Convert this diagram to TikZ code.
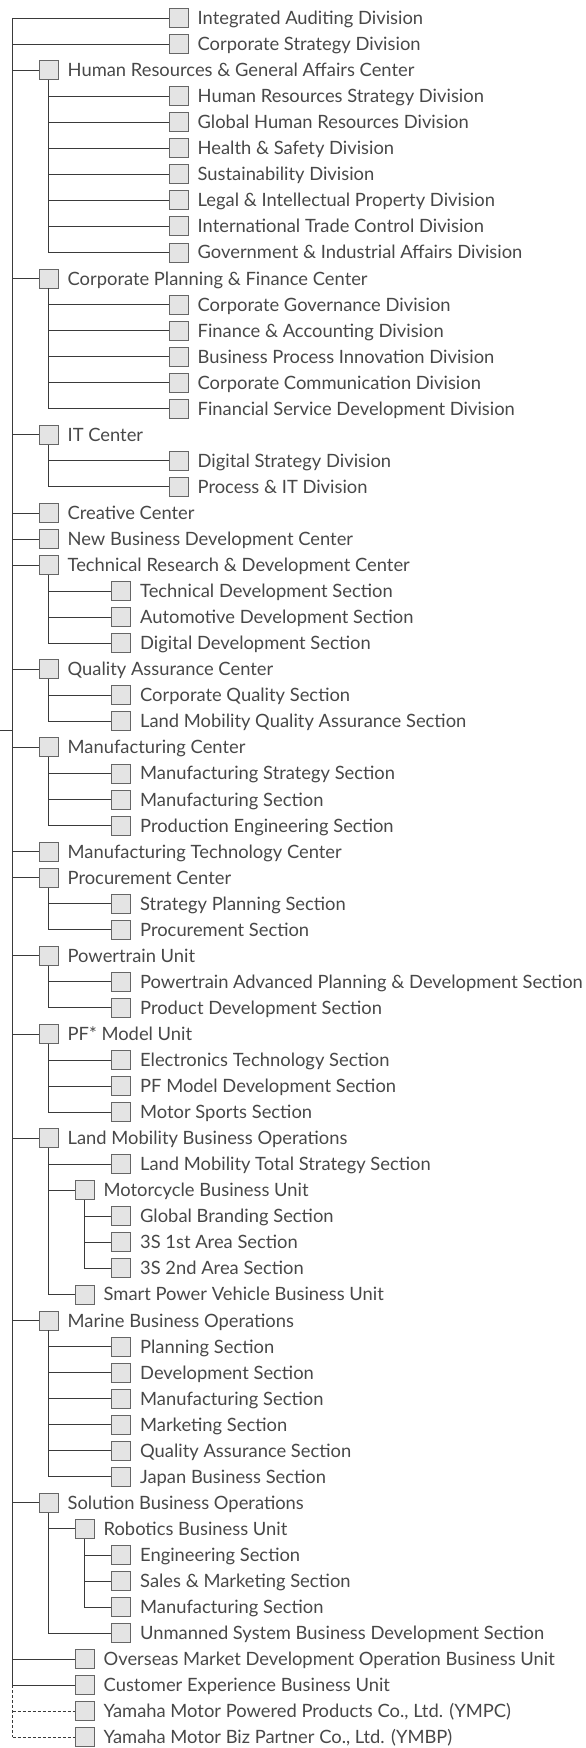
\documentclass[tikz,border=0pt]{standalone}
\usepackage{fontspec}
\setmainfont{Lato}
\usepackage{xcolor}
\usepackage{tikz}
\usetikzlibrary{positioning}

\definecolor{linegray}{HTML}{3A3A3A}
\definecolor{boxfill}{HTML}{E4E4E4}
\definecolor{boxline}{HTML}{666666}
\definecolor{textgray}{HTML}{484848}

\begin{document}
\begin{tikzpicture}[
            x=1pt, y=-26.05pt,
            unit/.style={rectangle, draw=boxline, fill=boxfill, line width=0.9pt, minimum size=19pt, inner sep=0pt},
            txt/.style={inner sep=0pt, text=textgray, font=\fontsize{18.35}{20}\selectfont, text height=13pt, text depth=0pt},
            link/.style={draw=linegray, line width=0.9pt},
            sister/.style={link, dash pattern=on 3pt off 2pt}
        ]
        \useasboundingbox (0,0.309) rectangle (585,67.41);

        \coordinate (trunk) at (12.5,1);
        \coordinate (parent) at (0,28.35);

        % Direct divisions
        \node[unit] (iad) at (178.5,1) {};
        \node[txt, right=9pt of iad] (iad-t) {Integrated Auditing Division};
        \node[unit] (csd) at (178.5,2) {};
        \node[txt, right=9pt of csd] (csd-t) {Corporate Strategy Division};

        % Human Resources & General Affairs Center
        \node[unit] (hrga) at (48.5,3) {};
        \node[txt, right=9pt of hrga] (hrga-t) {Human Resources \& General Affairs Center};
        \node[unit] (hrs) at (178.5,4) {};
        \node[txt, right=9pt of hrs] (hrs-t) {Human Resources Strategy Division};
        \node[unit] (ghr) at (178.5,5) {};
        \node[txt, right=9pt of ghr] (ghr-t) {Global Human Resources Division};
        \node[unit] (hsd) at (178.5,6) {};
        \node[txt, right=9pt of hsd] (hsd-t) {Health \& Safety Division};
        \node[unit] (sus) at (178.5,7) {};
        \node[txt, right=9pt of sus] (sus-t) {Sustainability Division};
        \node[unit] (lip) at (178.5,8) {};
        \node[txt, right=9pt of lip] (lip-t) {Legal \& Intellectual Property Division};
        \node[unit] (itc) at (178.5,9) {};
        \node[txt, right=9pt of itc] (itc-t) {International Trade Control Division};
        \node[unit] (gia) at (178.5,10) {};
        \node[txt, right=9pt of gia] (gia-t) {Government \& Industrial Affairs Division};

        % Corporate Planning & Finance Center
        \node[unit] (cpf) at (48.5,11) {};
        \node[txt, right=9pt of cpf] (cpf-t) {Corporate Planning \& Finance Center};
        \node[unit] (cgd) at (178.5,12) {};
        \node[txt, right=9pt of cgd] (cgd-t) {Corporate Governance Division};
        \node[unit] (fad) at (178.5,13) {};
        \node[txt, right=9pt of fad] (fad-t) {Finance \& Accounting Division};
        \node[unit] (bpi) at (178.5,14) {};
        \node[txt, right=9pt of bpi] (bpi-t) {Business Process Innovation Division};
        \node[unit] (ccd) at (178.5,15) {};
        \node[txt, right=9pt of ccd] (ccd-t) {Corporate Communication Division};
        \node[unit] (fsd) at (178.5,16) {};
        \node[txt, right=9pt of fsd] (fsd-t) {Financial Service Development Division};

        % IT Center
        \node[unit] (itcen) at (48.5,17) {};
        \node[txt, right=9pt of itcen] (itcen-t) {IT Center};
        \node[unit] (dsd) at (178.5,18) {};
        \node[txt, right=9pt of dsd] (dsd-t) {Digital Strategy Division};
        \node[unit] (pit) at (178.5,19) {};
        \node[txt, right=9pt of pit] (pit-t) {Process \& IT Division};

        \node[unit] (cre) at (48.5,20) {};
        \node[txt, right=9pt of cre] (cre-t) {Creative Center};
        \node[unit] (nbd) at (48.5,21) {};
        \node[txt, right=9pt of nbd] (nbd-t) {New Business Development Center};

        % Technical Research & Development Center
        \node[unit] (trd) at (48.5,22) {};
        \node[txt, right=9pt of trd] (trd-t) {Technical Research \& Development Center};
        \node[unit] (tds) at (121,23) {};
        \node[txt, right=9pt of tds] (tds-t) {Technical Development Section};
        \node[unit] (ads) at (121,24) {};
        \node[txt, right=9pt of ads] (ads-t) {Automotive Development Section};
        \node[unit] (dds) at (121,25) {};
        \node[txt, right=9pt of dds] (dds-t) {Digital Development Section};

        % Quality Assurance Center
        \node[unit] (qac) at (48.5,26) {};
        \node[txt, right=9pt of qac] (qac-t) {Quality Assurance Center};
        \node[unit] (cqs) at (121,27) {};
        \node[txt, right=9pt of cqs] (cqs-t) {Corporate Quality Section};
        \node[unit] (lmq) at (121,28) {};
        \node[txt, right=9pt of lmq] (lmq-t) {Land Mobility Quality Assurance Section};

        % Manufacturing Center
        \node[unit] (mfc) at (48.5,29) {};
        \node[txt, right=9pt of mfc] (mfc-t) {Manufacturing Center};
        \node[unit] (mst) at (121,30) {};
        \node[txt, right=9pt of mst] (mst-t) {Manufacturing Strategy Section};
        \node[unit] (mfs) at (121,31) {};
        \node[txt, right=9pt of mfs] (mfs-t) {Manufacturing Section};
        \node[unit] (pes) at (121,32) {};
        \node[txt, right=9pt of pes] (pes-t) {Production Engineering Section};

        \node[unit] (mtc) at (48.5,33) {};
        \node[txt, right=9pt of mtc] (mtc-t) {Manufacturing Technology Center};

        % Procurement Center
        \node[unit] (prc) at (48.5,34) {};
        \node[txt, right=9pt of prc] (prc-t) {Procurement Center};
        \node[unit] (sps) at (121,35) {};
        \node[txt, right=9pt of sps] (sps-t) {Strategy Planning Section};
        \node[unit] (prs) at (121,36) {};
        \node[txt, right=9pt of prs] (prs-t) {Procurement Section};

        % Powertrain Unit
        \node[unit] (ptu) at (48.5,37) {};
        \node[txt, right=9pt of ptu] (ptu-t) {Powertrain Unit};
        \node[unit] (pap) at (121,38) {};
        \node[txt, right=9pt of pap] (pap-t) {Powertrain Advanced Planning \& Development Section};
        \node[unit] (pds) at (121,39) {};
        \node[txt, right=9pt of pds] (pds-t) {Product Development Section};

        % PF* Model Unit
        \node[unit] (pfm) at (48.5,40) {};
        \node[txt, right=9pt of pfm] (pfm-t) {PF* Model Unit};
        \node[unit] (ets) at (121,41) {};
        \node[txt, right=9pt of ets] (ets-t) {Electronics Technology Section};
        \node[unit] (pmd) at (121,42) {};
        \node[txt, right=9pt of pmd] (pmd-t) {PF Model Development Section};
        \node[unit] (msp) at (121,43) {};
        \node[txt, right=9pt of msp] (msp-t) {Motor Sports Section};

        % Land Mobility Business Operations
        \node[unit] (lmbo) at (48.5,44) {};
        \node[txt, right=9pt of lmbo] (lmbo-t) {Land Mobility Business Operations};
        \node[unit] (lmts) at (121,45) {};
        \node[txt, right=9pt of lmts] (lmts-t) {Land Mobility Total Strategy Section};
        \node[unit] (mcbu) at (84.5,46) {};
        \node[txt, right=9pt of mcbu] (mcbu-t) {Motorcycle Business Unit};
        \node[unit] (gbs) at (121,47) {};
        \node[txt, right=9pt of gbs] (gbs-t) {Global Branding Section};
        \node[unit] (sfa) at (121,48) {};
        \node[txt, right=9pt of sfa] (sfa-t) {3S 1st Area Section};
        \node[unit] (ssa) at (121,49) {};
        \node[txt, right=9pt of ssa] (ssa-t) {3S 2nd Area Section};
        \node[unit] (spv) at (84.5,50) {};
        \node[txt, right=9pt of spv] (spv-t) {Smart Power Vehicle Business Unit};

        % Marine Business Operations
        \node[unit] (mbo) at (48.5,51) {};
        \node[txt, right=9pt of mbo] (mbo-t) {Marine Business Operations};
        \node[unit] (mpl) at (121,52) {};
        \node[txt, right=9pt of mpl] (mpl-t) {Planning Section};
        \node[unit] (mdv) at (121,53) {};
        \node[txt, right=9pt of mdv] (mdv-t) {Development Section};
        \node[unit] (mmf) at (121,54) {};
        \node[txt, right=9pt of mmf] (mmf-t) {Manufacturing Section};
        \node[unit] (mmk) at (121,55) {};
        \node[txt, right=9pt of mmk] (mmk-t) {Marketing Section};
        \node[unit] (mqa) at (121,56) {};
        \node[txt, right=9pt of mqa] (mqa-t) {Quality Assurance Section};
        \node[unit] (mjb) at (121,57) {};
        \node[txt, right=9pt of mjb] (mjb-t) {Japan Business Section};

        % Solution Business Operations
        \node[unit] (sbo) at (48.5,58) {};
        \node[txt, right=9pt of sbo] (sbo-t) {Solution Business Operations};
        \node[unit] (rbu) at (84.5,59) {};
        \node[txt, right=9pt of rbu] (rbu-t) {Robotics Business Unit};
        \node[unit] (ren) at (121,60) {};
        \node[txt, right=9pt of ren] (ren-t) {Engineering Section};
        \node[unit] (rsm) at (121,61) {};
        \node[txt, right=9pt of rsm] (rsm-t) {Sales \& Marketing Section};
        \node[unit] (rmf) at (121,62) {};
        \node[txt, right=9pt of rmf] (rmf-t) {Manufacturing Section};
        \node[unit] (usb) at (121,63) {};
        \node[txt, right=9pt of usb] (usb-t) {Unmanned System Business Development Section};

        \node[unit] (omd) at (84.5,64) {};
        \node[txt, right=9pt of omd] (omd-t) {Overseas Market Development Operation Business Unit};
        \node[unit] (cxb) at (84.5,65) {};
        \node[txt, right=9pt of cxb] (cxb-t) {Customer Experience Business Unit};
        \node[unit] (ympc) at (84.5,66) {};
        \node[txt, right=9pt of ympc] (ympc-t) {Yamaha Motor Powered Products Co., Ltd. (YMPC)};
        \node[unit] (ymbp) at (84.5,67) {};
        \node[txt, right=9pt of ymbp] (ymbp-t) {Yamaha Motor Biz Partner Co., Ltd. (YMBP)};

        % Trunk
        \draw[link] (parent) -- (parent -| trunk);
        \draw[link] (trunk) -- (trunk |- cxb);
        \draw[sister] (trunk |- cxb) -- (trunk |- ymbp);
        \draw[link] (trunk |- iad) -- (iad);
        \draw[link] (trunk |- csd) -- (csd);
        \draw[link] (trunk |- hrga) -- (hrga);
        \draw[link] (trunk |- cpf) -- (cpf);
        \draw[link] (trunk |- itcen) -- (itcen);
        \draw[link] (trunk |- cre) -- (cre);
        \draw[link] (trunk |- nbd) -- (nbd);
        \draw[link] (trunk |- trd) -- (trd);
        \draw[link] (trunk |- qac) -- (qac);
        \draw[link] (trunk |- mfc) -- (mfc);
        \draw[link] (trunk |- mtc) -- (mtc);
        \draw[link] (trunk |- prc) -- (prc);
        \draw[link] (trunk |- ptu) -- (ptu);
        \draw[link] (trunk |- pfm) -- (pfm);
        \draw[link] (trunk |- lmbo) -- (lmbo);
        \draw[link] (trunk |- mbo) -- (mbo);
        \draw[link] (trunk |- sbo) -- (sbo);
        \draw[link] (trunk |- omd) -- (omd);
        \draw[link] (trunk |- cxb) -- (cxb);
        \draw[sister] (trunk |- ympc) -- (ympc);
        \draw[sister] (trunk |- ymbp) -- (ymbp);

        % Branches
        \draw[link] (hrga) -- (hrga |- gia) -- (gia);
        \draw[link] (hrga |- hrs) -- (hrs);
        \draw[link] (hrga |- ghr) -- (ghr);
        \draw[link] (hrga |- hsd) -- (hsd);
        \draw[link] (hrga |- sus) -- (sus);
        \draw[link] (hrga |- lip) -- (lip);
        \draw[link] (hrga |- itc) -- (itc);

        \draw[link] (cpf) -- (cpf |- fsd) -- (fsd);
        \draw[link] (cpf |- cgd) -- (cgd);
        \draw[link] (cpf |- fad) -- (fad);
        \draw[link] (cpf |- bpi) -- (bpi);
        \draw[link] (cpf |- ccd) -- (ccd);

        \draw[link] (itcen) -- (itcen |- pit) -- (pit);
        \draw[link] (itcen |- dsd) -- (dsd);

        \draw[link] (trd) -- (trd |- dds) -- (dds);
        \draw[link] (trd |- tds) -- (tds);
        \draw[link] (trd |- ads) -- (ads);

        \draw[link] (qac) -- (qac |- lmq) -- (lmq);
        \draw[link] (qac |- cqs) -- (cqs);

        \draw[link] (mfc) -- (mfc |- pes) -- (pes);
        \draw[link] (mfc |- mst) -- (mst);
        \draw[link] (mfc |- mfs) -- (mfs);

        \draw[link] (prc) -- (prc |- prs) -- (prs);
        \draw[link] (prc |- sps) -- (sps);

        \draw[link] (ptu) -- (ptu |- pds) -- (pds);
        \draw[link] (ptu |- pap) -- (pap);

        \draw[link] (pfm) -- (pfm |- msp) -- (msp);
        \draw[link] (pfm |- ets) -- (ets);
        \draw[link] (pfm |- pmd) -- (pmd);

        \draw[link] (lmbo) -- (lmbo |- spv) -- (spv);
        \draw[link] (lmbo |- lmts) -- (lmts);
        \draw[link] (lmbo |- mcbu) -- (mcbu);
        \draw[link] (mcbu) -- (mcbu |- ssa) -- (ssa);
        \draw[link] (mcbu |- gbs) -- (gbs);
        \draw[link] (mcbu |- sfa) -- (sfa);

        \draw[link] (mbo) -- (mbo |- mjb) -- (mjb);
        \draw[link] (mbo |- mpl) -- (mpl);
        \draw[link] (mbo |- mdv) -- (mdv);
        \draw[link] (mbo |- mmf) -- (mmf);
        \draw[link] (mbo |- mmk) -- (mmk);
        \draw[link] (mbo |- mqa) -- (mqa);

        \draw[link] (sbo) -- (sbo |- usb) -- (usb);
        \draw[link] (sbo |- rbu) -- (rbu);
        \draw[link] (rbu) -- (rbu |- rmf) -- (rmf);
        \draw[link] (rbu |- ren) -- (ren);
        \draw[link] (rbu |- rsm) -- (rsm);

    \end{tikzpicture}
\end{document}
